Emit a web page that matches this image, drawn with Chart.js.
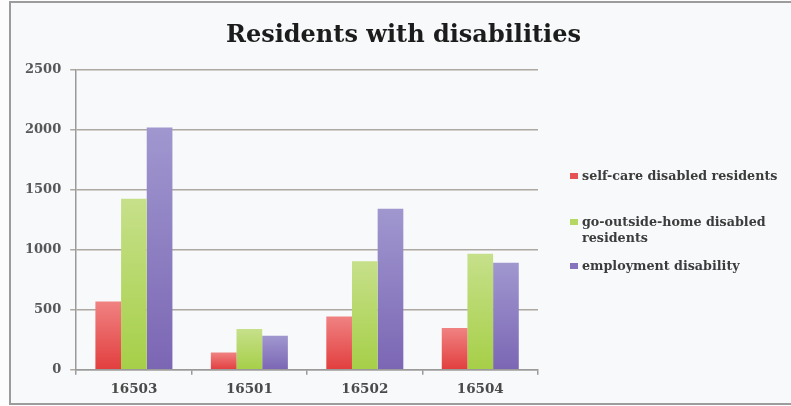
<!DOCTYPE html>
<html>
<head>
<meta charset="utf-8">
<script src="https://cdn.jsdelivr.net/npm/chart.js@4"></script>
<style>
  html, body { margin: 0; padding: 0; background: #fdfdfd; }
  #wrap { position: relative; width: 791px; height: 406px; overflow: hidden; }
  #frame {
    position: absolute; left: 9px; top: 1px; width: 800px; height: 400px;
    border: 2px solid #9c9c9c; border-right: none; background: #f7f9fb;
  }
  #box { position: absolute; left: 0; top: 0; width: 791px; height: 406px; }
  #legend {
    position: absolute; left: 570px; top: 168px;
    font: bold 12.7px "DejaVu Serif", serif; color: #3c3c3c; line-height: 16px;
  }
  .item { display: flex; align-items: flex-start; }
  .item .swatch { width: 8px; height: 6px; margin-top: 5px; margin-right: 4px; flex: none; }
  .item .label { width: 208px; }
</style>
</head>
<body>
<div id="wrap">
  <div id="frame"></div>
  <div id="box"><canvas id="myChart"></canvas></div>
  <div id="legend"></div>
</div>
<script>
const zipCodes = ['16503', '16501', '16502', '16504'];
const selfCare = [570, 145, 445, 348];
const goOutside = [1425, 340, 905, 967];
const employment = [2020, 283, 1342, 892];
const seriesNames = ['self-care disabled residents', 'go-outside-home disabled residents', 'employment disability'];

// each bar fades from a light top to a deeper base
function barShade(light, deep) {
  return (ctx) => {
    const chart = ctx.chart;
    const y = chart.scales.y;
    if (!chart.chartArea || !y || ctx.type !== 'data') return deep;
    const top = y.getPixelForValue(ctx.raw);
    const base = y.getPixelForValue(0);
    const g = chart.ctx.createLinearGradient(0, top, 0, base);
    g.addColorStop(0, light);
    g.addColorStop(1, deep);
    return g;
  };
}

const swatches = ['#e45454', '#b4d862', '#8673bd'];

const data = {
  labels: zipCodes,
  datasets: [
    {
      label: seriesNames[0],
      data: selfCare,
      backgroundColor: barShade('#f08282', '#e23e3e'),
    },
    {
      label: seriesNames[1],
      data: goOutside,
      backgroundColor: barShade('#c6e08a', '#a6cf48'),
    },
    {
      label: seriesNames[2],
      data: employment,
      backgroundColor: barShade('#a097cf', '#7b66b4'),
    }
  ]
};

const gridColor = 'rgba(150, 140, 132, 0.75)';

const config = {
  type: 'bar',
  data: data,
  options: {
    responsive: true,
    maintainAspectRatio: false,
    animation: false,
    categoryPercentage: 0.667,
    barPercentage: 1,
    layout: {
      padding: { left: 16, right: 0, top: 1, bottom: 1 }
    },
    plugins: {
      legend: { display: false },
      tooltip: { enabled: false },
      title: {
        display: true,
        text: 'Residents with disabilities',
        color: '#1c1c1c',
        font: { family: 'DejaVu Serif', size: 24, weight: 'bold' },
        padding: { top: 20, bottom: 20 }
      }
    },
    scales: {
      x: {
        grid: {
          drawOnChartArea: false,
          tickLength: 5,
          color: '#9a9a9a',
          lineWidth: 1.5
        },
        border: { color: '#9a9a9a', width: 1.5 },
        ticks: {
          color: '#4a4a4a',
          padding: 7,
          font: { family: 'DejaVu Serif', size: 13.5, weight: 'bold' }
        }
      },
      y: {
        min: 0,
        max: 2500,
        ticks: {
          stepSize: 500,
          color: '#585858',
          padding: 9,
          font: { family: 'DejaVu Serif', size: 13, weight: 'bold' },
          callback: (v) => String(v)
        },
        grid: {
          color: gridColor,
          lineWidth: 1.5,
          tickLength: 6
        },
        border: { color: '#9a9a9a', width: 1.5 }
      },
      // empty axis on the right that keeps room for the legend
      side: {
        type: 'linear',
        position: 'right',
        grid: { display: false },
        border: { display: false },
        ticks: { display: false },
        afterFit: (scale) => { scale.width = 253; }
      }
    }
  }
};

const ctx = document.getElementById('myChart');
const chart = new Chart(ctx, config);

// legend to the right of the plot, built from the chart's own legend items
const legendBox = document.getElementById('legend');
const items = chart.options.plugins.legend.labels.generateLabels(chart);
items.forEach((item, i) => {
  const row = document.createElement('div');
  row.className = 'item';
  row.style.marginTop = i === 0 ? '0px' : (i === 1 ? '30px' : '12px');
  const sw = document.createElement('span');
  sw.className = 'swatch';
  sw.style.background = swatches[item.datasetIndex];
  const label = document.createElement('span');
  label.className = 'label';
  label.textContent = item.text;
  row.appendChild(sw);
  row.appendChild(label);
  legendBox.appendChild(row);
});
</script>
</body>
</html>
